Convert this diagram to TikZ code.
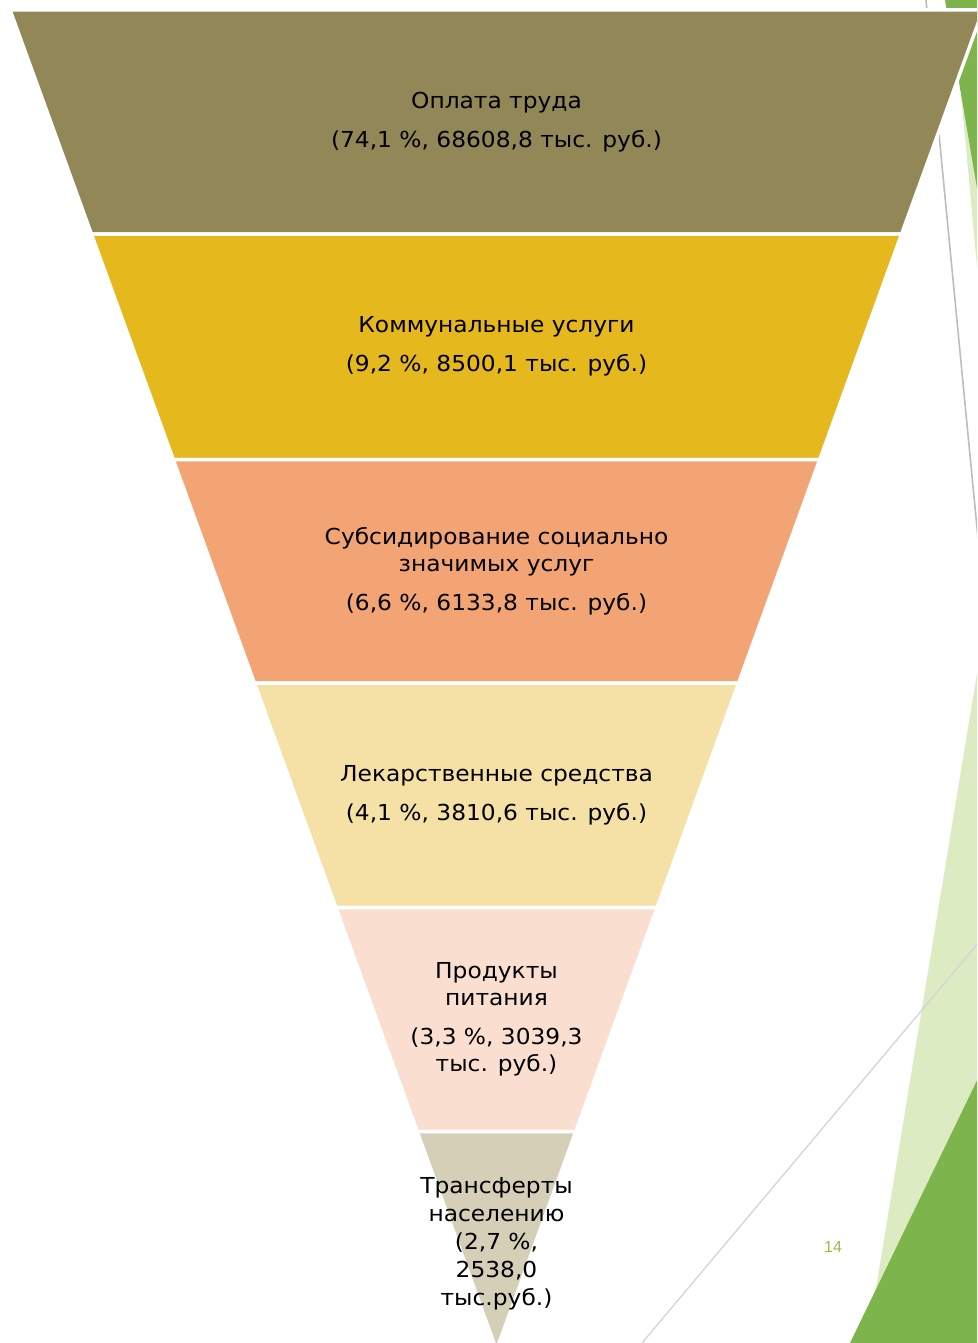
\documentclass[tikz,border=0pt]{standalone}
\usepackage{fontspec}
\setmainfont{DejaVu Sans}[FakeStretch=1.06]
\newfontfamily\pagefont{Liberation Sans}
\definecolor{cA}{HTML}{918757}
\definecolor{cB}{HTML}{E5B81E}
\definecolor{cC}{HTML}{F2A474}
\definecolor{cD}{HTML}{F5E1A5}
\definecolor{cE}{HTML}{FADFD1}
\definecolor{cF}{HTML}{D5CFB8}
\definecolor{gDark}{HTML}{7DB54C}
\definecolor{gLight}{HTML}{DDEBC3}
\definecolor{gLine}{HTML}{BDBDBD}
\definecolor{gLineLight}{HTML}{D4D4D4}
\definecolor{pageGreen}{HTML}{92C045}
\tikzset{
  band/.style={draw=white, line width=3.5pt, line join=round},
  lbl/.style={align=center, text=black, font=\fontsize{22}{27}\selectfont},
  deco/.style={draw=none}
}
\begin{document}
\begin{tikzpicture}[x=1pt,y=-1pt]
\useasboundingbox (0,0) rectangle (977,1343);
\clip (0,0) rectangle (977,1343);
% background decorations (theme)
\fill[gLight] (952.4,0) -- (985,354) -- (985,0) -- cycle;
\fill[gDark] (945,0) -- (985,235) -- (985,0) -- cycle;
\draw[gLine, line width=1.6pt] (926,0) -- (983,590);
\fill[gLight] (977,673) -- (867,1343) -- (985,1343) -- (985,620) -- cycle;
\draw[gLineLight, line width=1.3pt] (985,935) -- (642,1343);
\fill[gDark] (985,1064) -- (850,1343) -- (985,1343) -- cycle;
% funnel bands
\filldraw[band, fill=cA] (10.08,10) -- (982.92,10) -- (901.61,234) -- (91.39,234) -- cycle;
\filldraw[band, fill=cB] (91.39,234) -- (901.61,234) -- (819.75,459.5) -- (173.25,459.5) -- cycle;
\filldraw[band, fill=cC] (173.25,459.5) -- (819.75,459.5) -- (738.62,683) -- (254.38,683) -- cycle;
\filldraw[band, fill=cD] (254.38,683) -- (738.62,683) -- (657.13,907.5) -- (335.87,907.5) -- cycle;
\filldraw[band, fill=cE] (335.87,907.5) -- (657.13,907.5) -- (575.82,1131.5) -- (417.18,1131.5) -- cycle;
\filldraw[band, fill=cF] (417.18,1131.5) -- (575.82,1131.5) -- (496.5,1350) -- cycle;
% labels
\node[lbl] (t1) at (496.5,122) {Оплата труда\\[12pt](74,1 \%, 68608,8 тыс. руб.)};
\node[lbl] (t2) at (496.5,346) {Коммунальные услуги\\[12pt](9,2 \%, 8500,1 тыс. руб.)};
\node[lbl] (t3) at (496.5,571) {Субсидирование социально\\значимых услуг\\[12pt](6,6 \%, 6133,8 тыс. руб.)};
\node[lbl] (t4) at (496.5,795) {Лекарственные средства\\[12pt](4,1 \%, 3810,6 тыс. руб.)};
\node[lbl] (t5) at (496.5,1019) {Продукты\\питания\\[12pt](3,3 \%, 3039,3\\тыс. руб.)};
\node[lbl, font=\fontsize{22}{28}\selectfont] (t6) at (496.5,1244) {Трансферты\\населению\\(2,7 \%,\\2538,0\\тыс.руб.)};
\node[text=pageGreen, font=\pagefont\fontsize{16}{18}\selectfont] (pg) at (833,1247) {14};
\end{tikzpicture}
\end{document}
